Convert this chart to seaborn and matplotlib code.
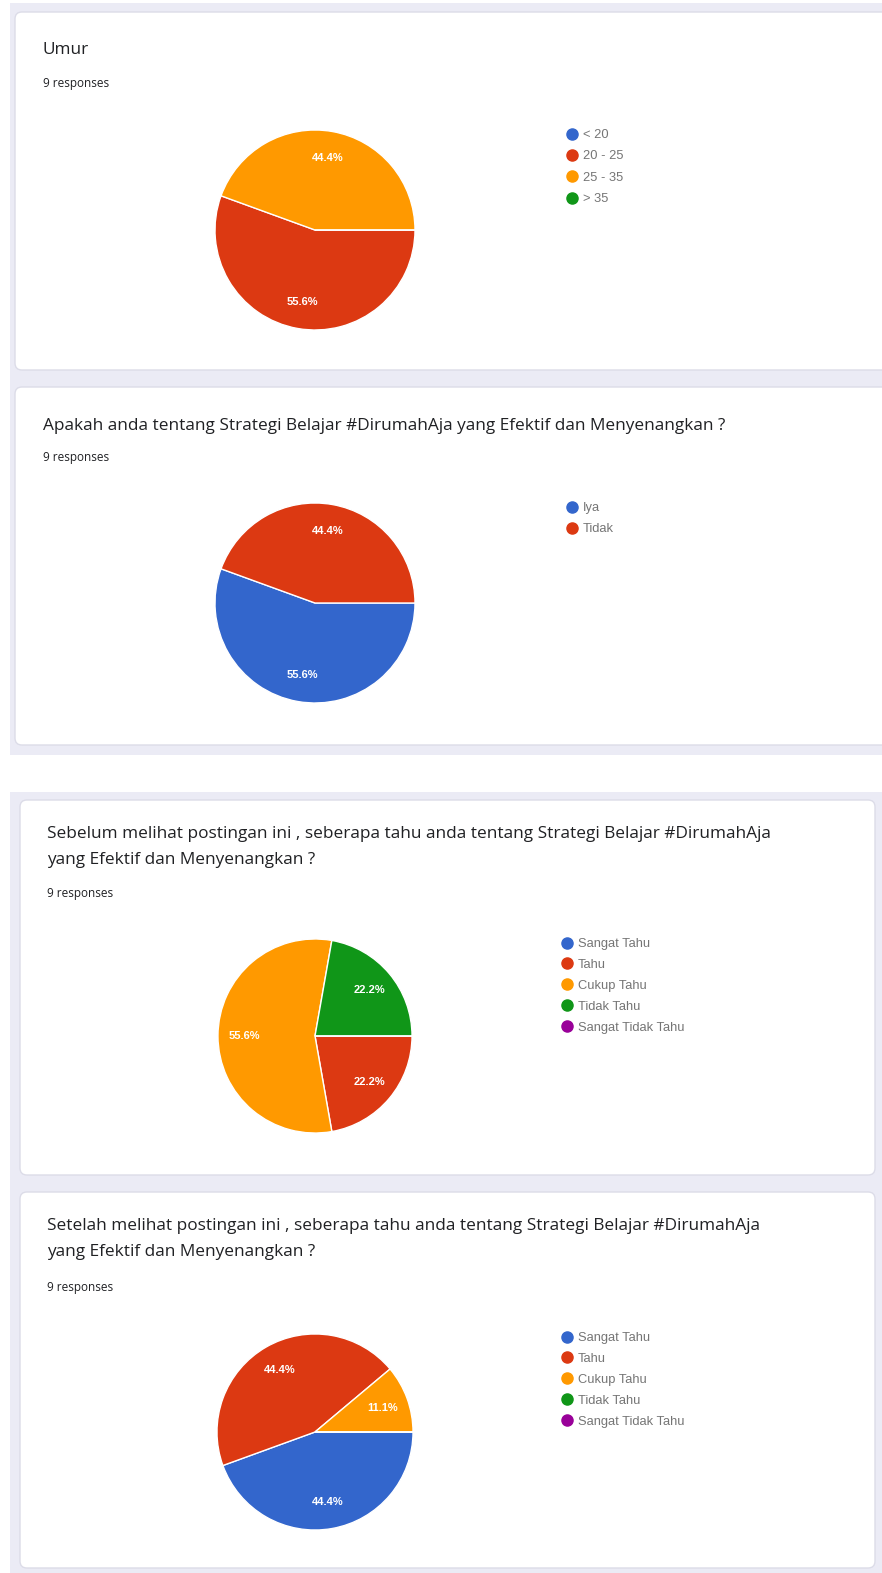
import seaborn as sns
import matplotlib.pyplot as plt
from matplotlib.patches import FancyBboxPatch, Rectangle
from matplotlib.lines import Line2D

# data (9 responses each)
google_colors = ['#3366cc', '#dc3912', '#ff9900', '#109618', '#990099']

umur_labels = ['< 20', '20 - 25', '25 - 35', '> 35']
umur_counts = [0, 5, 4, 0]

apakah_labels = ['Iya', 'Tidak']
apakah_counts = [5, 4]

tahu_labels = ['Sangat Tahu', 'Tahu', 'Cukup Tahu', 'Tidak Tahu', 'Sangat Tidak Tahu']
sebelum_counts = [0, 2, 5, 2, 0]
setelah_counts = [4, 4, 1, 0, 0]

titles = [
    'Umur',
    'Apakah anda tentang Strategi Belajar #DirumahAja yang Efektif dan Menyenangkan ?',
    'Sebelum melihat postingan ini , seberapa tahu anda tentang Strategi Belajar #DirumahAja\nyang Efektif dan Menyenangkan ?',
    'Setelah melihat postingan ini , seberapa tahu anda tentang Strategi Belajar #DirumahAja\nyang Efektif dan Menyenangkan ?',
]
responses = '9 responses'

sns.set_theme(style='white')
palette = sns.color_palette(google_colors)
plt.rcParams['font.family'] = ['Open Sans', 'DejaVu Sans']

W, H = 882, 1573
fig = plt.figure(figsize=(W / 100, H / 100), dpi=100)
fig.patch.set_facecolor('white')

# background axes in pixel units
bg = fig.add_axes([0, 0, 1, 1])
bg.set_xlim(0, W)
bg.set_ylim(H, 0)
bg.axis('off')

lav = '#ebebf5'
bg.add_patch(Rectangle((10, 3), W, 752, color=lav, lw=0))
bg.add_patch(Rectangle((10, 792), W, H, color=lav, lw=0))

# card boxes: x, y, w, h
cards = [(15, 12, 900, 358), (15, 387, 900, 358), (20, 800, 855, 375), (20, 1192, 855, 376)]
for (x, y, w, h) in cards:
    bg.add_patch(FancyBboxPatch((x, y), w, h, boxstyle='round,pad=0,rounding_size=7',
                                facecolor='white', edgecolor='#dcdce8', lw=1))

title_pos = [(43, 50), (43, 426), (47, 847), (47, 1239)]
resp_pos = [(43, 83), (43, 457), (47, 893), (47, 1287)]
for t, (tx, ty), (rx, ry) in zip(titles, title_pos, resp_pos):
    bg.text(tx, ty, t, fontsize=12.4, color='#202124', va='center', ha='left', linespacing=1.75)
    bg.text(rx, ry, responses, fontsize=8.5, color='#202124', va='center', ha='left')

charts = [
    (umur_labels, umur_counts, (315, 230), 101, (567, 129), 0.72),
    (apakah_labels, apakah_counts, (315, 603), 101, (567, 502), 0.72),
    (tahu_labels, sebelum_counts, (315, 1036), 98, (562, 938), 0.69),
    (tahu_labels, setelah_counts, (315, 1432), 99, (562, 1332), 0.69),
]


def pct(p):
    return f'{p:.1f}%' if p > 0 else ''


for labels, counts, (cx, cy), r, (lx, ly), lsp in charts:
    ax = fig.add_axes([(cx - r) / W, 1 - (cy + r) / H, 2 * r / W, 2 * r / H])
    cols = palette[:len(counts)]
    ax.pie(counts, colors=cols, startangle=0, counterclock=False,
           autopct=pct, pctdistance=0.73,
           wedgeprops={'edgecolor': 'white', 'linewidth': 1},
           textprops={'color': 'white', 'fontsize': 8, 'fontweight': 'bold',
                       'family': ['Liberation Sans', 'DejaVu Sans']})
    ax.set_xlim(-1.01, 1.01)
    ax.set_ylim(-1.01, 1.01)
    handles = [Line2D([], [], marker='o', linestyle='', markersize=8, color=c) for c in cols]
    leg = ax.legend(handles, labels, loc='upper left',
                    bbox_to_anchor=(lx / W, 1 - ly / H), bbox_transform=fig.transFigure,
                    frameon=False, borderpad=0, handlelength=0.8, handletextpad=0.45,
                    labelspacing=lsp, borderaxespad=0,
                    prop={'family': ['Liberation Sans', 'DejaVu Sans'], 'size': 9.3})
    for txt in leg.get_texts():
        txt.set_color('#757575')

fig.savefig('out.png', dpi=100, facecolor='white')
